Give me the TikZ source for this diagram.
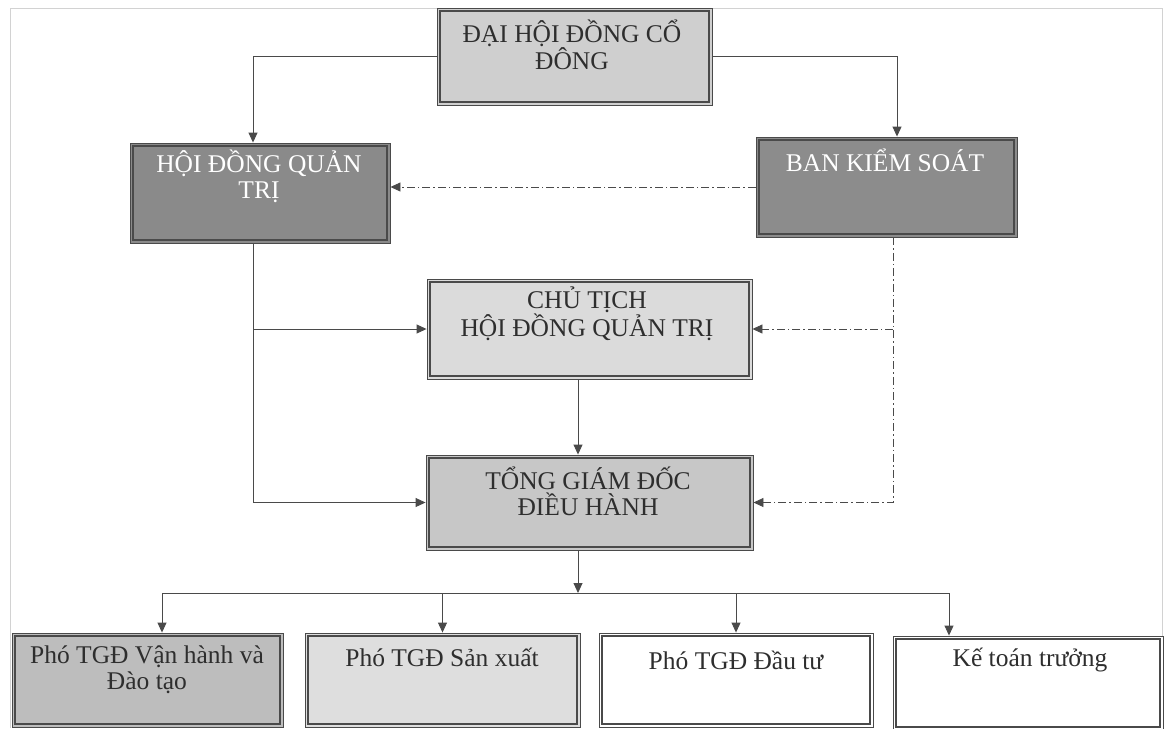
\documentclass[tikz,border=0pt]{standalone}
\usepackage{fontspec}
\setmainfont{Liberation Serif}
\usetikzlibrary{arrows.meta}
\definecolor{edge}{HTML}{4A4A4A}
\definecolor{txtc}{HTML}{2E2E2E}
\tikzset{
  box/.style={draw=edge, line width=0.9pt, inner sep=0pt},
  innerline/.style={draw=edge, line width=1.3pt},
  lbl/.style={align=center, inner sep=0pt, text=txtc, font=\fontsize{25.5}{26}\selectfont},
  wlbl/.style={lbl, text=white},
  conn/.style={draw=edge, line width=0.9pt},
  arr/.style={conn, -{Triangle[length=10pt,width=9pt]}},
  dd/.style={arr, dash pattern=on 8pt off 3pt on 1.5pt off 3pt},
}
\begin{document}
\begin{tikzpicture}[x=1pt,y=-1pt]
\useasboundingbox (0,0) rectangle (1166,728);
\draw[gray!35, line width=0.8pt] (10,728) -- (10,8) -- (1162,8) -- (1162,728);

% boxes
\node[box, fill=black!19, minimum width=275pt, minimum height=97pt] (dh) at (574.5,56.5) {};
\node[box, fill=black!46, minimum width=260pt, minimum height=100pt] (hdqt) at (260,193) {};
\node[box, fill=black!45, minimum width=261pt, minimum height=100pt] (bks) at (886.5,187) {};
\node[box, fill=black!14, minimum width=325pt, minimum height=100pt] (ct) at (589.5,329) {};
\node[box, fill=black!22, minimum width=327pt, minimum height=95pt] (tgd) at (589.5,502.5) {};
\node[box, fill=black!26, minimum width=271pt, minimum height=94pt] (b1) at (147.5,680) {};
\node[box, fill=black!13, minimum width=275pt, minimum height=94pt] (b2) at (442.5,680) {};
\node[box, fill=white, minimum width=274pt, minimum height=94pt] (b3) at (736,680) {};
\node[box, fill=white, minimum width=270pt, minimum height=94pt] (b4) at (1028,683) {};
\foreach \n in {dh,hdqt,bks,ct,tgd,b1,b2,b3,b4}
  \draw[innerline] ([shift={(3.5pt,-3.5pt)}]\n.north west) rectangle ([shift={(-3.5pt,3.5pt)}]\n.south east);

% labels
\node[lbl] (dht) at (572,44.5) {ĐẠI HỘI ĐỒNG CỔ\\ĐÔNG};
\node[wlbl] (hdqtt) at (259,176.5) {HỘI ĐỒNG QUẢN\\TRỊ};
\node[wlbl] (bkst) at (885,160) {BAN KIỂM SOÁT};
\node[lbl] (ctt) at (587,313.5) {CHỦ TỊCH\\HỘI ĐỒNG QUẢN TRỊ};
\node[lbl] (tgdt) at (588,491.5) {TỔNG GIÁM ĐỐC\\ĐIỀU HÀNH};
\node[lbl] (b1t) at (147,670) {Phó TGĐ Vận hành và\\Đào tạo};
\node[lbl] (b2t) at (442,657) {Phó TGĐ Sản xuất};
\node[lbl] (b3t) at (736,660) {Phó TGĐ Đầu tư};
\node[lbl] (b4t) at (1030,660) {Kế toán trưởng};

% connectors
\draw[arr] (dh.west) -| ([xshift=-7pt]hdqt.north);
\draw[arr] (dh.east) -| ([xshift=10.5pt]bks.north);
\draw[dd] (bks.west) -- (bks.west -| hdqt.east);
\draw[arr] ([xshift=-7pt]hdqt.south) |- (tgd.west);
\draw[arr] ([xshift=-7pt]hdqt.south |- ct.west) -- (ct.west);
\draw[dd] ([xshift=6.5pt]bks.south) |- (tgd.east);
\draw[dd] ([xshift=6.5pt]bks.south |- ct.east) -- (ct.east);
\draw[arr] ([xshift=-11.5pt]ct.south) -- ([xshift=-11.5pt]tgd.north);
\coordinate (busL) at (162,593);
\coordinate (busR) at (949,593);
\draw[arr] ([xshift=-11.5pt]tgd.south) -- ([xshift=-11.5pt]tgd.south |- busL);
\draw[conn] (busL) -- (busR);
\draw[arr] (busL) -- ([xshift=14.5pt]b1.north);
\draw[arr] (b2.north |- busL) -- (b2.north);
\draw[arr] (b3.north |- busL) -- (b3.north);
\draw[arr] (busR) -- (busR |- b4.north);
\end{tikzpicture}
\end{document}
